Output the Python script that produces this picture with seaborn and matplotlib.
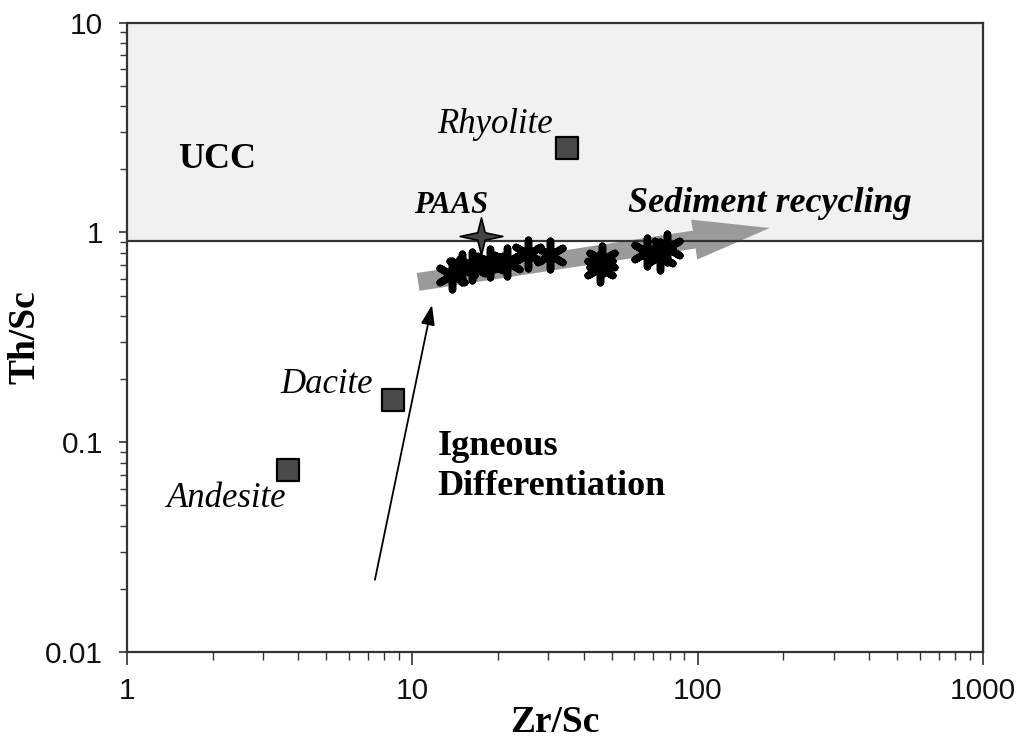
import numpy as np
import pandas as pd
import matplotlib
matplotlib.use("Agg")
import matplotlib.pyplot as plt
from matplotlib.path import Path
from matplotlib.ticker import FixedLocator, FixedFormatter, LogLocator, NullFormatter
import seaborn as sns

# ---------------- data ----------------
rock_names = ["Andesite", "Dacite", "Rhyolite"]
rock_zr_sc = [3.67, 8.57, 34.9]
rock_th_sc = [0.0738, 0.159, 2.53]

paas_zr_sc = [17.4]
paas_th_sc = [0.962]

sample_zr_sc = [13.8, 15.0, 16.2, 18.7, 21.5, 25.5, 30.4, 45.5, 46.2, 66.5, 73.8, 78.0]
sample_th_sc = [0.627, 0.677, 0.692, 0.715, 0.723, 0.789, 0.781, 0.677, 0.740, 0.807, 0.773, 0.844]

ucc_th_sc = 0.906

x_ticks = [1, 10, 100, 1000]
x_tick_labels = ["1", "10", "100", "1000"]
y_ticks = [0.01, 0.1, 1, 10]
y_tick_labels = ["0.01", "0.1", "1", "10"]

rocks = pd.DataFrame({"Zr/Sc": rock_zr_sc, "Th/Sc": rock_th_sc, "rock": rock_names})
paas = pd.DataFrame({"Zr/Sc": paas_zr_sc, "Th/Sc": paas_th_sc})
samples = pd.DataFrame({"Zr/Sc": sample_zr_sc, "Th/Sc": sample_th_sc})

# ---------------- style ----------------
sns.set_theme(style="ticks")
plt.rcParams["font.family"] = ["Liberation Serif", "DejaVu Serif"]
plt.rcParams["text.color"] = "black"
plt.rcParams["axes.labelcolor"] = "black"
plt.rcParams["xtick.color"] = "#333333"
plt.rcParams["ytick.color"] = "#333333"
plt.rcParams["xtick.labelcolor"] = "#111111"
plt.rcParams["ytick.labelcolor"] = "#111111"

fig = plt.figure(figsize=(10.21, 7.55), dpi=100)
ax = fig.add_axes([0.124, 0.1364, 0.8388, 0.8336])
ax.set_facecolor("white")
ax.set_xscale("log")
ax.set_yscale("log")
ax.set_xlim(1, 1000)
ax.set_ylim(0.01, 10)

# UCC field
ax.axhspan(ucc_th_sc, 10, color="#f1f1f1", zorder=0, lw=0)
ax.axhline(ucc_th_sc, color="#333333", lw=1.6, zorder=3)

# Sediment recycling arrow (grey, thick)
ax.annotate("", xy=(179, 1.05), xytext=(10.5, 0.581),
            arrowprops=dict(arrowstyle="simple,head_length=2.75,head_width=1.45,tail_width=0.65",
                            color="#9a9a9a", shrinkA=0, shrinkB=0, mutation_scale=20, lw=0),
            zorder=2)

# Igneous differentiation arrow (thin)
ax.annotate("", xy=(11.74, 0.451), xytext=(7.41, 0.0221),
            arrowprops=dict(arrowstyle="-|>,head_length=0.8,head_width=0.28",
                            color="black", lw=1.3, shrinkA=0, shrinkB=0, mutation_scale=15),
            zorder=4)

# samples (asterisks)
sns.scatterplot(data=samples, x="Zr/Sc", y="Th/Sc", ax=ax, marker=(6, 2, 0), s=420,
                color="black", edgecolor="black", linewidth=5.4, zorder=5, legend=False)

# rock squares
sns.scatterplot(data=rocks, x="Zr/Sc", y="Th/Sc", ax=ax, marker="s", s=230,
                color="#4a4a4a", edgecolor="black", linewidth=1.6, zorder=5, legend=False)

# PAAS star
star_verts = [(0, 1), (0.2, 0.2), (1.15, 0), (0.2, -0.2), (0, -1), (-0.2, -0.2),
              (-1.15, 0), (-0.2, 0.2), (0, 1)]
star = Path(star_verts, closed=True)
sns.scatterplot(data=paas, x="Zr/Sc", y="Th/Sc", ax=ax, marker=star, s=950,
                color="#444444", edgecolor="black", linewidth=1.2, zorder=6, legend=False)

# ---------------- text ----------------
ax.text(1.51, 2.03, "UCC", fontsize=26, fontweight="bold", ha="left", va="baseline", zorder=7)
ax.text(19.5, 2.98, "Rhyolite", fontsize=25, fontstyle="italic", ha="center", va="baseline", zorder=7)
ax.text(13.7, 1.239, "PAAS", fontsize=22, fontstyle="italic", fontweight="bold",
        ha="center", va="baseline", zorder=7)
ax.text(57.0, 1.252, "Sediment recycling", fontsize=26, fontstyle="italic", fontweight="bold",
        ha="left", va="baseline", zorder=7)
ax.text(7.30, 0.172, "Dacite", fontsize=25, fontstyle="italic", ha="right", va="baseline", zorder=7)
ax.text(1.385, 0.0492, "Andesite", fontsize=25, fontstyle="italic", ha="left", va="baseline", zorder=7)
ax.text(12.3, 0.0870, "Igneous", fontsize=26, fontweight="bold", ha="left", va="baseline", zorder=7)
ax.text(12.3, 0.0561, "Differentiation", fontsize=26, fontweight="bold", ha="left", va="baseline", zorder=7)

# ---------------- axes ----------------
ax.xaxis.set_major_locator(FixedLocator(x_ticks))
ax.xaxis.set_major_formatter(FixedFormatter(x_tick_labels))
ax.yaxis.set_major_locator(FixedLocator(y_ticks))
ax.yaxis.set_major_formatter(FixedFormatter(y_tick_labels))
ax.xaxis.set_minor_locator(LogLocator(base=10, subs=np.arange(2, 10)))
ax.yaxis.set_minor_locator(LogLocator(base=10, subs=np.arange(2, 10)))
ax.xaxis.set_minor_formatter(NullFormatter())
ax.yaxis.set_minor_formatter(NullFormatter())

for sp in ax.spines.values():
    sp.set_color("#333333")
    sp.set_linewidth(1.6)
    sp.set_visible(True)

ax.tick_params(axis="x", which="major", direction="out", length=9, width=1.2, pad=9,
               labelsize=21.5, labelfontfamily="Liberation Sans")
ax.tick_params(axis="x", which="minor", direction="out", length=6, width=1.0)
ax.tick_params(axis="y", which="major", direction="out", length=6, width=1.2, pad=11,
               labelsize=21.5, labelfontfamily="Liberation Sans")
ax.tick_params(axis="y", which="minor", direction="out", length=5, width=1.0)

ax.set_xlabel("Zr/Sc", fontsize=27, fontweight="bold", labelpad=0)
ax.set_ylabel("Th/Sc", fontsize=27, fontweight="bold", labelpad=2)

fig.savefig("out.png", dpi=100)
